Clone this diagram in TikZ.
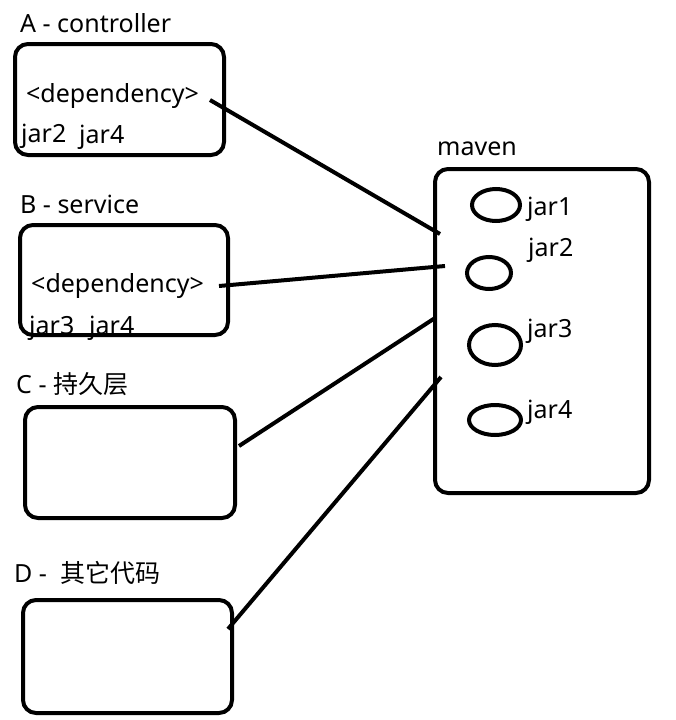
\documentclass[tikz,border=0pt]{standalone}
\usepackage{fontspec}
\setmainfont{Noto Sans}
\newfontfamily\cjk{Noto Sans CJK SC}
\usetikzlibrary{shapes.geometric}
\begin{document}
\begin{tikzpicture}[x=1pt,y=-1pt,
  box/.style={draw,line width=4pt,rounded corners=13pt,inner sep=0pt},
  jar/.style={draw,line width=4pt,ellipse,inner sep=0pt},
  lbl/.style={anchor=base west,inner sep=0pt,font=\fontsize{25}{30}\selectfont},
  link/.style={line width=4pt}]
\useasboundingbox[fill=white] (0,0) rectangle (675,720);
% boxes
\node[box,minimum width=209pt,minimum height=111pt] (A) at (119.5,99.5) {};
\node[box,minimum width=208pt,minimum height=110pt] (B) at (124,280) {};
\node[box,minimum width=210pt,minimum height=111pt] (C) at (130,462.5) {};
\node[box,minimum width=209pt,minimum height=113pt] (D) at (127.5,656.5) {};
\node[box,minimum width=214pt,minimum height=324pt] (M) at (542,331) {};
% titles
\node[lbl] (tA) at (20,32) {A - controller};
\node[lbl] (tB) at (20,213) {B - service};
\node[lbl] (tC) at (16,393) {C - {\cjk 持久层}};
\node[lbl] (tD) at (14,582) {D -\ \ {\cjk 其它代码}};
\node[lbl] (tM) at (437,155) {maven};
% box contents
\node[lbl] (dA) at (26,102) {<dependency>};
\node[lbl] (jA2) at (21,142) {jar2};
\node[lbl] (jA4) at (79,143) {jar4};
\node[lbl] (dB) at (31,292) {<dependency>};
\node[lbl] (jB3) at (29,334) {jar3};
\node[lbl] (jB4) at (89,334) {jar4};
% jars
\node[jar,minimum width=48pt,minimum height=32pt] (j1) at (496,205) {};
\node[jar,minimum width=44pt,minimum height=32pt] (j2) at (489,273) {};
\node[jar,minimum width=52pt,minimum height=40pt] (j3) at (495,345) {};
\node[jar,minimum width=52pt,minimum height=30pt] (j4) at (495,420) {};
\node[lbl] (l1) at (527,215) {jar1};
\node[lbl] (l2) at (528,256) {jar2};
\node[lbl] (l3) at (527,337) {jar3};
\node[lbl] (l4) at (527,418) {jar4};
% connector ends
\coordinate (sA) at (210,100);
\coordinate (eA) at (440,234);
\coordinate (sB) at (219,286);
\coordinate (eB) at (445,266);
\coordinate (sC) at (239,446);
\coordinate (eC) at (435,318);
\coordinate (sD) at (228,629);
\coordinate (eD) at (441,377);
\draw[link] (sA) -- (eA);
\draw[link] (sB) -- (eB);
\draw[link] (sC) -- (eC);
\draw[link] (sD) -- (eD);
\end{tikzpicture}
\end{document}
